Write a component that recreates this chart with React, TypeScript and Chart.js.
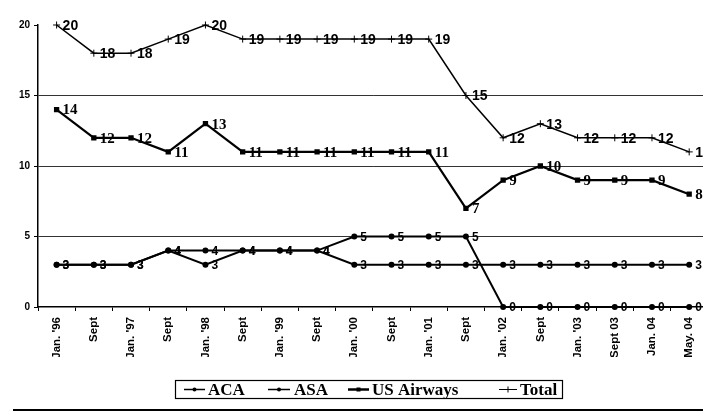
import React, { useEffect, useRef } from "react";
import { Chart, registerables } from "chart.js";

Chart.register(...registerables);

const categories = [
  "Jan. '96", "Sept", "Jan. '97", "Sept", "Jan. '98", "Sept", "Jan. '99", "Sept",
  "Jan. '00", "Sept", "Jan. '01", "Sept", "Jan. '02", "Sept", "Jan. '03", "Sept 03",
  "Jan. 04", "May. 04",
];
const acaValues = [3, 3, 3, 4, 4, 4, 4, 4, 5, 5, 5, 5, 0, 0, 0, 0, 0, 0];
const asaValues = [3, 3, 3, 4, 3, 4, 4, 4, 3, 3, 3, 3, 3, 3, 3, 3, 3, 3];
const usAirwaysValues = [14, 12, 12, 11, 13, 11, 11, 11, 11, 11, 11, 7, 9, 10, 9, 9, 9, 8];
const totalValues = [20, 18, 18, 19, 20, 19, 19, 19, 19, 19, 19, 15, 12, 13, 12, 12, 12, 11];
const legendLabels = ["ACA", "ASA", "US Airways", "Total"];
const yTicks = [0, 5, 10, 15, 20];

const labelFonts = [
  "bold 12px 'Liberation Sans', Arial, sans-serif",
  "bold 12px 'Liberation Sans', Arial, sans-serif",
  "bold 15px 'Liberation Serif', 'Times New Roman', serif",
  "bold 14px 'Liberation Sans', Arial, sans-serif",
];

const dataLabelPlugin = {
  id: "dataLabels",
  afterDatasetsDraw(chart: any) {
    const ctx = chart.ctx;
    ctx.save();
    ctx.fillStyle = "#000";
    ctx.textAlign = "left";
    ctx.textBaseline = "middle";
    chart.data.datasets.forEach((ds: any, di: number) => {
      const meta = chart.getDatasetMeta(di);
      ctx.font = labelFonts[di];
      meta.data.forEach((pt: any, i: number) => {
        ctx.fillText(String(ds.data[i]), pt.x + 6, pt.y + 1);
      });
    });
    ctx.restore();
  },
};

const legendPlugin = {
  id: "customLegend",
  afterDraw(chart: any) {
    const ctx = chart.ctx;
    ctx.save();
    ctx.strokeStyle = "#000";
    ctx.lineWidth = 1.2;
    ctx.strokeRect(175.5, 380.5, 387, 18);
    const items = [
      { x1: 184, x2: 205, tx: 208, style: "circle", lw: 1.5 },
      { x1: 268, x2: 290, tx: 294, style: "circle", lw: 1.5 },
      { x1: 348, x2: 369, tx: 372, style: "rect", lw: 2.5 },
      { x1: 499, x2: 517, tx: 520, style: "cross", lw: 1 },
    ];
    ctx.font = "bold 17px 'Liberation Serif', 'Times New Roman', serif";
    ctx.textBaseline = "middle";
    ctx.fillStyle = "#000";
    items.forEach((it, i) => {
      const y = 389.5;
      ctx.beginPath();
      ctx.lineWidth = it.lw;
      ctx.moveTo(it.x1, y);
      ctx.lineTo(it.x2, y);
      ctx.stroke();
      const cx = (it.x1 + it.x2) / 2;
      if (it.style === "circle") {
        ctx.beginPath();
        ctx.arc(cx, y, 2, 0, Math.PI * 2);
        ctx.fill();
      } else if (it.style === "rect") {
        ctx.fillRect(cx - 2, y - 2, 4, 4);
      } else {
        ctx.beginPath();
        ctx.lineWidth = 1;
        ctx.moveTo(cx, y - 3);
        ctx.lineTo(cx, y + 3);
        ctx.stroke();
      }
      ctx.fillText(legendLabels[i], it.tx, y + 1);
    });
    ctx.beginPath();
    ctx.lineWidth = 2;
    ctx.moveTo(13, 410);
    ctx.lineTo(703, 410);
    ctx.stroke();
    ctx.restore();
  },
};

export default function App() {
  const canvasRef = useRef<HTMLCanvasElement | null>(null);

  useEffect(() => {
    if (!canvasRef.current) return;
    const common = {
      borderColor: "#000",
      backgroundColor: "#000",
      pointBorderColor: "#000",
      pointBackgroundColor: "#000",
      tension: 0,
      fill: false,
    };
    const chart = new Chart(canvasRef.current, {
      type: "line",
      data: {
        labels: categories,
        datasets: [
          { ...common, label: legendLabels[0], data: acaValues, borderWidth: 2, pointStyle: "circle", pointRadius: 2 },
          { ...common, label: legendLabels[1], data: asaValues, borderWidth: 2, pointStyle: "circle", pointRadius: 2 },
          { ...common, label: legendLabels[2], data: usAirwaysValues, borderWidth: 2.2, pointStyle: "rect", pointRadius: 2.2 },
          { ...common, label: legendLabels[3], data: totalValues, borderWidth: 1.5, pointStyle: "cross", pointRadius: 3.5, pointBorderWidth: 1 },
        ],
      },
      options: {
        responsive: false,
        animation: false,
        clip: false,
        layout: { padding: { top: 25, right: 0, left: 0, bottom: 58 } },
        plugins: {
          legend: { display: false },
          tooltip: { enabled: false },
        },
        scales: {
          x: {
            type: "category",
            offset: true,
            grid: {
              display: true,
              drawOnChartArea: false,
              drawTicks: true,
              tickLength: 4,
              offset: true,
              color: "#000",
              tickColor: "#000",
            },
            border: { display: true, color: "#000", width: 1.5 },
            ticks: {
              autoSkip: false,
              minRotation: 90,
              maxRotation: 90,
              padding: 6,
              color: "#000",
              font: { family: "'Liberation Sans', Arial, sans-serif", weight: "bold", size: 11.5 },
            },
            afterFit: (s: any) => {
              s.height = 50;
            },
          },
          y: {
            min: 0,
            max: 20,
            afterBuildTicks: (s: any) => {
              s.ticks = yTicks.map((v) => ({ value: v }));
            },
            ticks: {
              stepSize: 5,
              padding: 4,
              color: "#000",
              font: { family: "'Liberation Sans', Arial, sans-serif", weight: "bold", size: 10 },
            },
            grid: {
              drawTicks: true,
              tickLength: 4,
              lineWidth: 1,
              tickColor: "#000",
              color: (c: any) =>
                c.tick && (c.tick.value === 20 || c.tick.value === 0) ? "rgba(0,0,0,0)" : "#333",
            },
            border: { display: true, color: "#000", width: 1.5 },
            afterFit: (s: any) => {
              s.width = 38;
            },
          },
        },
      },
      plugins: [dataLabelPlugin, legendPlugin],
    } as any);
    return () => chart.destroy();
  }, []);

  return (
    <div style={{ position: "fixed", left: 0, top: 0, width: 703, height: 415, overflow: "hidden", background: "#fff" }}>
      <canvas ref={canvasRef} width={714} height={415} style={{ display: "block" }} />
    </div>
  );
}
